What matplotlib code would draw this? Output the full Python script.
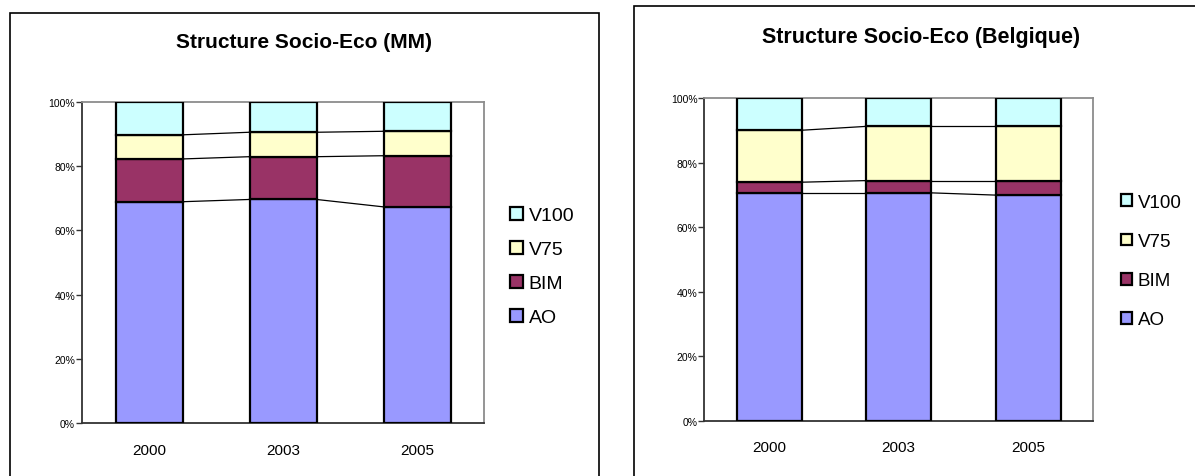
import matplotlib.pyplot as plt
from matplotlib.patches import Rectangle
import numpy as np

plt.rcParams['font.family'] = ['Liberation Sans', 'DejaVu Sans']

years = ['2000', '2003', '2005']
series = ['AO', 'BIM', 'V75', 'V100']
colors = ['#9999FF', '#993366', '#FFFFCC', '#CCFFFF']

# shares in percent, stacked bottom to top
mm_ao = [68.9, 69.6, 67.3]
mm_bim = [13.3, 13.3, 15.9]
mm_v75 = [7.5, 7.6, 7.6]
mm_v100 = [10.3, 9.5, 9.2]

be_ao = [70.7, 70.7, 70.0]
be_bim = [3.3, 3.8, 4.5]
be_v75 = [16.1, 16.8, 16.8]
be_v100 = [9.9, 8.7, 8.7]

W, H = 1195, 477
fig = plt.figure(figsize=(W / 100, H / 100), dpi=100)


def px_axes(x0, y0, x1, y1):
    return fig.add_axes([x0 / W, 1 - y1 / H, (x1 - x0) / W, (y1 - y0) / H])


def stacked(ax, data, title, title_xy, title_size, leg_xy, leg_size, leg_spacing, hsize):
    x = np.arange(len(years))
    width = 0.5
    bottom = np.zeros(len(years))
    bars = []
    for vals, name, col in zip(data, series, colors):
        vals = np.array(vals)
        b = ax.bar(x, vals, width, bottom=bottom, color=col, edgecolor='black',
                   linewidth=1.6, label=name, zorder=3)
        bars.append(b)
        bottom = bottom + vals
        # series lines between neighbouring bars
        if name != series[-1]:
            for i in range(len(years) - 1):
                ax.plot([x[i] + width / 2, x[i + 1] - width / 2],
                        [bottom[i], bottom[i + 1]], color='black',
                        linewidth=0.9, zorder=2)
    ax.set_xlim(-0.5, 2.5)
    ax.set_ylim(0, 100)
    ax.set_xticks(x)
    ax.set_xticklabels(years, fontsize=11)
    ax.tick_params(axis='x', length=0, pad=14)
    ax.set_yticks(np.arange(0, 101, 20))
    ax.set_yticklabels(['%d%%' % v for v in range(0, 101, 20)], fontsize=7.5)
    ax.tick_params(axis='y', length=4, width=1, direction='out', pad=1, color='#333333')
    for s in ['left', 'bottom']:
        ax.spines[s].set_color('#333333')
        ax.spines[s].set_linewidth(1.3)
    for s in ['top', 'right']:
        ax.spines[s].set_color('#8c8c8c')
        ax.spines[s].set_linewidth(1.3)
    fig.text(title_xy[0] / W, 1 - title_xy[1] / H, title, ha='center', va='center',
             fontsize=title_size, fontweight='bold')
    fig.legend(bars[::-1], series[::-1], loc='upper left',
               bbox_to_anchor=(leg_xy[0] / W, 1 - leg_xy[1] / H),
               bbox_transform=fig.transFigure, frameon=False, fontsize=leg_size,
               borderpad=0, borderaxespad=0, handlelength=hsize, handleheight=hsize,
               handletextpad=0.3, labelspacing=leg_spacing)


ax1 = px_axes(82, 102.7, 484, 424.3)
stacked(ax1, [mm_ao, mm_bim, mm_v75, mm_v100], 'Structure Socio-Eco (MM)',
        (304, 43), 15, (510, 208), 14, 0.86, 0.65)

ax2 = px_axes(704.4, 99.3, 1093, 422)
stacked(ax2, [be_ao, be_bim, be_v75, be_v100], 'Structure Socio-Eco (Belgique)',
        (921, 38), 15.5, (1121, 195), 13.5, 1.18, 0.6)

# chart area frames
fig.patches.append(Rectangle((10 / W, -0.1), 589 / W, 1.1 - 14 / H, fill=False,
                             edgecolor='black', linewidth=1.2,
                             transform=fig.transFigure, figure=fig))
fig.patches.append(Rectangle((634 / W, -0.1), 0.6, 1.1 - 7 / H, fill=False,
                             edgecolor='black', linewidth=1.2,
                             transform=fig.transFigure, figure=fig))

fig.savefig('out.png', dpi=100)
